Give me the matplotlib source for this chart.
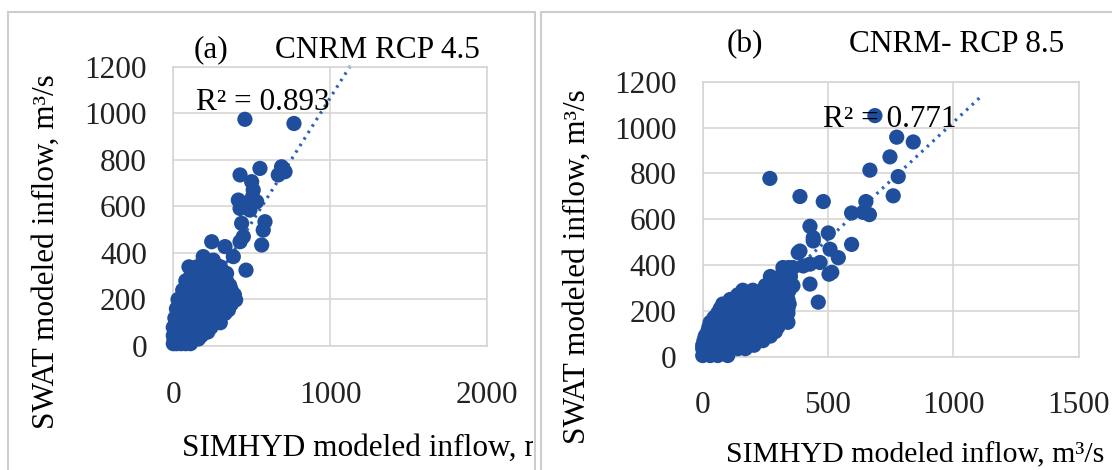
import numpy as np
import matplotlib
matplotlib.use("Agg")
import matplotlib.pyplot as plt
import matplotlib.patches as patches
from matplotlib.transforms import Bbox

plt.rcParams['font.family'] = ['Liberation Serif', 'DejaVu Serif']

# ---- panel (a): CNRM RCP 4.5 ----
xa = [457, 770, 426, 553, 691, 713, 670, 700, 500, 510, 505, 415, 468, 532, 489, 426,
      585, 574, 436, 447, 426, 564, 464, 383, 330, 245, 191, 128, 255, 298, 223, 340,
      372, 398, 352,
      100, 150, 200, 260, 300,
      125, 175, 225, 275, 315,
      110, 160, 210, 250, 300, 330,
      80, 120, 160, 200, 250, 300, 340,
      90, 130, 180, 230, 280, 320, 360,
      60, 100, 140, 180, 220, 270, 320, 370,
      70, 110, 150, 200, 250, 300, 350, 390,
      30, 70, 110, 150, 190, 240, 290, 340,
      50, 90, 130, 170, 210, 260, 310, 370,
      20, 55, 90, 130, 170, 210, 255, 300,
      40, 70, 110, 150, 190, 230, 280, 330,
      10, 35, 70, 110, 150, 190, 230, 270,
      20, 50, 90, 130, 170, 210, 250, 300,
      0, 25, 55, 90, 130, 170, 200, 240,
      10, 40, 70, 110, 150, 190, 220,
      0, 20, 45, 75, 110, 145, 180,
      5, 30, 60, 90, 130, 160,
      0, 20, 50, 80, 110]
ya = [974, 956, 735, 763, 770, 749, 735, 760, 706, 670, 640, 627, 613, 620, 584, 591,
      534, 498, 527, 470, 448, 434, 326, 384, 427, 448, 384, 319, 369, 340, 334, 312,
      205, 198, 155,
      340, 340, 340, 340, 340,
      320, 320, 320, 320, 320,
      300, 300, 300, 300, 300, 300,
      280, 280, 280, 280, 280, 280, 280,
      260, 260, 260, 260, 260, 260, 260,
      240, 240, 240, 240, 240, 240, 240, 240,
      220, 220, 220, 220, 220, 220, 220, 220,
      200, 200, 200, 200, 200, 200, 200, 200,
      180, 180, 180, 180, 180, 180, 180, 180,
      160, 160, 160, 160, 160, 160, 160, 160,
      140, 140, 140, 140, 140, 140, 140, 140,
      120, 120, 120, 120, 120, 120, 120, 120,
      100, 100, 100, 100, 100, 100, 100, 100,
      80, 80, 80, 80, 80, 80, 80, 80,
      60, 60, 60, 60, 60, 60, 60,
      45, 45, 45, 45, 45, 45, 45,
      30, 30, 30, 30, 30, 30,
      10, 10, 10, 10, 10]

# ---- panel (b): CNRM RCP 8.5 ----
xb = [687, 774, 840, 747, 667, 780, 760, 268, 388, 481, 651, 665, 640, 594, 428, 441,
      501, 594, 388, 508, 541, 468, 428, 328, 515, 381, 461, 428, 441, 401, 343, 504,
      320, 360,
      270, 310, 350,
      250, 290, 330, 360,
      160, 200, 240, 280, 320, 345,
      140, 180, 220, 260, 300, 335,
      110, 150, 190, 230, 270, 310, 340,
      80, 120, 160, 200, 240, 280, 320, 345,
      70, 110, 150, 190, 230, 270, 310, 340,
      60, 100, 140, 180, 220, 260, 300, 340,
      45, 85, 125, 165, 205, 245, 285, 325,
      30, 70, 110, 150, 190, 230, 270, 310, 340,
      25, 60, 100, 140, 180, 220, 260, 300,
      20, 50, 90, 130, 170, 210, 250, 290,
      10, 45, 80, 120, 160, 200, 240, 270,
      5, 40, 80, 120, 160, 200, 240,
      0, 30, 65, 100, 135, 170, 205,
      0, 30, 60, 100, 140, 170,
      0, 30, 60, 100]
yb = [1052, 958, 937, 872, 814, 786, 702, 778, 699, 677, 677, 620, 630, 627, 569, 519,
      540, 490, 461, 469, 432, 411, 404, 382, 368, 454, 238, 317, 505, 396, 389, 360,
      389, 389,
      350, 350, 350,
      310, 310, 310, 310,
      290, 290, 290, 290, 290, 290,
      270, 270, 270, 270, 270, 270,
      250, 250, 250, 250, 250, 250, 250,
      230, 230, 230, 230, 230, 230, 230, 230,
      210, 210, 210, 210, 210, 210, 210, 210,
      190, 190, 190, 190, 190, 190, 190, 190,
      170, 170, 170, 170, 170, 170, 170, 170,
      150, 150, 150, 150, 150, 150, 150, 150, 150,
      130, 130, 130, 130, 130, 130, 130, 130,
      110, 110, 110, 110, 110, 110, 110, 110,
      90, 90, 90, 90, 90, 90, 90, 90,
      70, 70, 70, 70, 70, 70, 70,
      50, 50, 50, 50, 50, 50, 50,
      35, 35, 35, 35, 35, 35,
      5, 5, 5, 5]

# trendlines: slope, intercept, last x
trend_a = (1.07, -5.0, 1130)
trend_b = (1.02, 3.0, 1112)

xticks_a = [0, 1000, 2000]
xticks_b = [0, 500, 1000, 1500]
yticks = [0, 200, 400, 600, 800, 1000, 1200]

W, H = 1112, 470
fig = plt.figure(figsize=(W / 100, H / 100), dpi=100)

blue = '#1f4e9c'
grid = '#d6d3d0'
fs = 22.5


def px(x, y):
    return x / W, 1 - y / H


# panel frames
for x0, x1 in [(8, 535), (541, 1125)]:
    fig.patches.append(patches.Rectangle(px(x0, 480), (x1 - x0) / W, 468 / H,
                                         transform=fig.transFigure, fill=False,
                                         edgecolor='#cfcccc', linewidth=1.5))


def panel(rect, xs, ys, trend, xticks, xmax):
    ax = fig.add_axes(rect)
    ax.scatter(xs, ys, s=120, color=blue, edgecolors='none', clip_on=False, zorder=3)
    k, b, xend = trend
    xx = np.array([0, xend])
    # dotted linear trendline sits under the markers
    ax.plot(xx, k * xx + b, color='#2e62b8', lw=2.3, ls=(0, (0.8, 1.6)),
            clip_on=False, zorder=2)
    ax.set_xlim(0, xmax)
    ax.set_ylim(0, 1200)
    ax.set_xticks(xticks)
    ax.set_yticks(yticks)
    ax.grid(True, color=grid, lw=1.1)
    ax.set_axisbelow(True)
    for s in ax.spines.values():
        s.set_color(grid)
        s.set_linewidth(1.1)
    ax.tick_params(length=0, labelsize=fs, labelcolor='#222222')
    ax.tick_params(axis='y', pad=19)
    ax.tick_params(axis='x', pad=25)
    return ax


ax_a = panel([173.3 / W, 1 - 346 / H, 313.4 / W, 279.3 / H], xa, ya, trend_a, xticks_a, 2000)
ax_b = panel([702.7 / W, 1 - 356.7 / H, 376 / W, 275 / H], xb, yb, trend_b, xticks_b, 1500)

# titles / labels
fig.text(*px(211, 50), '(a)', fontsize=fs, ha='center', va='center')
fig.text(*px(275, 50), 'CNRM RCP 4.5', fontsize=fs, ha='left', va='center')
fig.text(*px(745, 45), '(b)', fontsize=fs, ha='center', va='center')
fig.text(*px(849, 45), 'CNRM- RCP 8.5', fontsize=fs, ha='left', va='center')

fig.text(*px(46, 252), 'SWAT modeled inflow, m³/s', fontsize=fs, rotation=90,
         ha='center', va='center')
fig.text(*px(577, 267), 'SWAT modeled inflow, m³/s', fontsize=fs, rotation=90,
         ha='center', va='center')

xl_a = fig.text(*px(182, 448), 'SIMHYD modeled inflow, m³/s', fontsize=fs,
                ha='left', va='center')
xl_a.set_clip_box(Bbox.from_extents(0, 0, 533, H))
xl_a.set_clip_on(True)
fig.text(*px(1104, 468), 'SIMHYD modeled inflow, m³/s', fontsize=21.5,
         ha='right', va='bottom')

fig.text(*px(196, 103), 'R² = 0.893', fontsize=fs, ha='left', va='center', zorder=10)
fig.text(*px(823, 120), 'R² = 0.771', fontsize=fs, ha='left', va='center', zorder=10)

fig.savefig('out.png', dpi=100)
